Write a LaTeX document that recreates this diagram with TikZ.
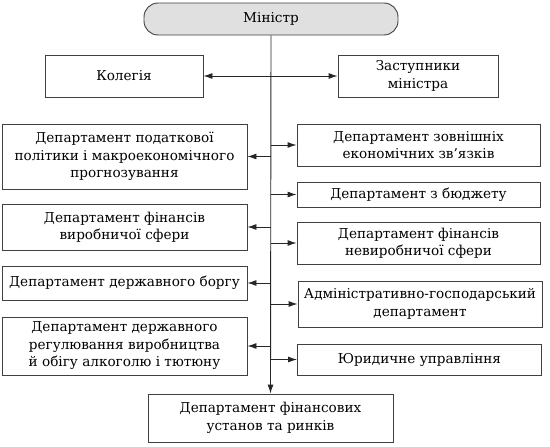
\documentclass[tikz,border=0pt]{standalone}
\usepackage{fontspec}
\setmainfont{DejaVu Serif}
\usetikzlibrary{arrows.meta}
\begin{document}
\begin{tikzpicture}[x=1pt,y=-1pt,
  box/.style={draw=black!75,line width=0.9pt,align=center,inner sep=1pt,
    font=\fontsize{13.6}{17.5}\selectfont,text=black},
  arr/.style={draw=black!85,line width=0.9pt,-{Latex[length=9pt,width=6pt]}}]
\useasboundingbox (0,0) rectangle (550,447);
\node[box,fill=black!12,rounded corners=14pt,minimum width=254pt,minimum height=32pt] (min) at (271,19) {Міністр};
\node[box,minimum width=158pt,minimum height=42pt] (kol) at (124,76) {Колегія};
\node[box,minimum width=160pt,minimum height=42pt] (zast) at (418,76) {Заступники\\міністра};
\node[box,minimum width=245pt,minimum height=65pt] (l1) at (124.5,156.5) {Департамент податкової\\політики і макроекономічного\\прогнозування};
\node[box,minimum width=245pt,minimum height=46pt] (l2) at (124.5,227) {Департамент фінансів\\виробничої сфери};
\node[box,minimum width=245pt,minimum height=34pt] (l3) at (124.5,283) {Департамент державного боргу};
\node[box,minimum width=245pt,minimum height=58pt] (l4) at (124.5,346) {Департамент державного\\регулювання виробництва\\й обігу алкоголю і тютюну};
\node[box,minimum width=243pt,minimum height=42pt] (r1) at (418.5,145) {Департамент зовнішніх\\економічних зв’язків};
\node[box,minimum width=243pt,minimum height=25pt] (r2) at (418.5,194.5) {Департамент з бюджету};
\node[box,minimum width=243pt,minimum height=42pt] (r3) at (418.5,243) {Департамент фінансів\\невиробничої сфери};
\node[box,minimum width=244pt,minimum height=46pt] (r4) at (420,304) {Адміністративно-господарський\\департамент};
\node[box,minimum width=244pt,minimum height=31pt] (r5) at (419.5,359.5) {Юридичне управління};
\node[box,minimum width=245pt,minimum height=48pt] (b) at (270.5,418) {Департамент фінансових\\установ та ринків};
\draw[arr] (min.south) -- (b.north);
\foreach \n in {kol,l1,l2,l3,l4} {\draw[arr] (\n.east -| min.south) -- (\n.east);}
\foreach \n in {zast,r1,r2,r3,r4,r5} {\draw[arr] (\n.west -| min.south) -- (\n.west);}
\end{tikzpicture}
\end{document}
